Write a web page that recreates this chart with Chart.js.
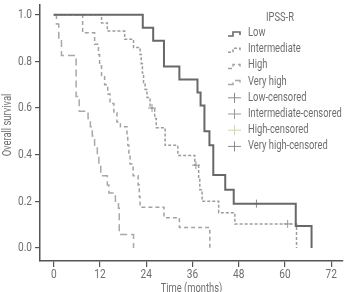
<!DOCTYPE html>
<html>
<head>
<meta charset="utf-8">
<script src="https://cdn.jsdelivr.net/npm/chart.js@4"></script>
<style>
body { margin: 0; background: #fff; }
</style>
</head>
<body>
<canvas id="kmChart" width="348" height="292"></canvas>

<script>
// Kaplan-Meier steps: time (months) where survival drops, and survival after the drop
const lowTime  = [0, 23.1, 25.8, 28.6, 32.6, 37.3, 38.1, 39.1, 40.4, 41.4, 44.5, 46.7, 62.8, 66.9];
const lowSurv  = [1, 0.944, 0.889, 0.778, 0.722, 0.667, 0.611, 0.5, 0.44, 0.313, 0.25, 0.19, 0.094, 0];

const intTime  = [0, 12.4, 13.9, 18.4, 20.7, 22.4, 22.7, 23.0, 23.3, 23.7, 24.2, 25.0, 26.2, 26.6, 28.9, 32.2, 36.6, 37.6, 37.9, 38.5, 42.8, 47.0, 63.0];
const intSurv  = [1, 0.965, 0.93, 0.895, 0.86, 0.83, 0.79, 0.75, 0.71, 0.68, 0.645, 0.6, 0.555, 0.516, 0.44, 0.397, 0.355, 0.3, 0.25, 0.2, 0.151, 0.103, 0];

const highTime = [0, 7.5, 10.6, 11.6, 11.9, 12.4, 13.2, 14.0, 14.6, 15.6, 16.4, 17.3, 19.0, 19.2, 19.5, 19.8, 20.6, 21.9, 22.2, 22.4, 28.6, 32.6, 40.5];
const highSurv = [1, 0.923, 0.874, 0.83, 0.78, 0.74, 0.7, 0.66, 0.62, 0.58, 0.54, 0.52, 0.48, 0.44, 0.4, 0.36, 0.31, 0.27, 0.22, 0.175, 0.13, 0.088, 0];

const vhTime   = [0, 0.7, 1.3, 2.0, 5.8, 6.6, 8.9, 9.5, 10.0, 10.6, 11.3, 11.7, 12.2, 13.9, 14.3, 16.0, 16.8, 17.0, 20.7];
const vhSurv   = [1, 0.96, 0.9, 0.825, 0.65, 0.586, 0.555, 0.52, 0.48, 0.44, 0.4, 0.355, 0.31, 0.27, 0.236, 0.2, 0.17, 0.058, 0];

// censored observations
const lowCensTime = [52.6];
const lowCensSurv = [0.19];
const intCensTime = [25.5, 36.9, 60.7];
const intCensSurv = [0.6, 0.355, 0.103];

const xTicks = [0, 12, 24, 36, 48, 60, 72];
const yTicks = [0, 0.2, 0.4, 0.6, 0.8, 1.0];

const FONT = "Roboto, 'Liberation Sans', sans-serif";
const TEXT = '#6e6e6e';
const SQUEEZE = 0.78;   // the original uses a condensed face

function pts(t, s){
    return t.map((v, i) => ({x: v, y: s[i]}));
}

function stepLine(label, t, s, color, width, dash){
    return {
        label: label,
        data: pts(t, s),
        stepped: 'before',
        borderColor: color,
        borderWidth: width,
        borderDash: dash,
        pointRadius: 0,
        fill: false,
        kind: 'line'
    };
}

function censors(label, t, s, color){
    return {
        label: label,
        data: pts(t, s),
        showLine: false,
        pointStyle: 'cross',
        pointRadius: 4,
        borderColor: color,
        borderWidth: 1,
        kind: 'cens'
    };
}

// text squeezed horizontally (in its own direction)
function narrowText(ctx, text, x, y, align, rot){
    ctx.save();
    ctx.translate(x, y);
    if (rot) ctx.rotate(rot);
    ctx.scale(SQUEEZE, 1);
    ctx.textAlign = align;
    ctx.fillText(text, 0, 0);
    ctx.restore();
}

// tick labels and axis titles
const kmText = {
    id: 'kmText',
    afterDraw(chart){
        const ctx = chart.ctx;
        const xs = chart.scales.x, ys = chart.scales.y;
        ctx.save();
        ctx.fillStyle = TEXT;
        ctx.textBaseline = 'middle';
        ctx.font = '13px ' + FONT;
        xTicks.forEach(v => narrowText(ctx, String(v), xs.getPixelForValue(v), xs.top + 14, 'center'));
        yTicks.forEach(v => narrowText(ctx, v.toFixed(1), ys.right - 8, ys.getPixelForValue(v), 'right'));
        ctx.font = '12px ' + FONT;
        narrowText(ctx, 'Time (months)', (xs.left + xs.right) / 2, xs.top + 28, 'center');
        narrowText(ctx, 'Overall survival', 8, 125, 'center', -Math.PI / 2);
        ctx.restore();
    }
};

// legend drawn inside the plot, top right
const kmLegend = {
    id: 'kmLegend',
    afterDraw(chart){
        const ctx = chart.ctx;
        ctx.save();
        ctx.font = '12px ' + FONT;
        ctx.fillStyle = TEXT;
        ctx.textBaseline = 'middle';
        narrowText(ctx, 'IPSS-R', 280, 18, 'center');
        chart.data.datasets.forEach((ds, i) => {
            let y = 33 + i * 16.2;
            ctx.strokeStyle = ds.borderColor;
            ctx.lineWidth = ds.kind === 'line' ? Math.min(ds.borderWidth, 1.6) : 1;
            ctx.setLineDash(ds.kind === 'line' ? (ds.borderDash || []) : []);
            ctx.beginPath();
            if (ds.kind === 'line') {
                ctx.moveTo(228, y + 3);
                ctx.lineTo(233, y + 3);
                ctx.lineTo(233, y - 1);
                ctx.lineTo(240, y - 1);
                ctx.lineTo(240, y + 2);
            } else {
                ctx.moveTo(228, y);
                ctx.lineTo(241, y);
                ctx.moveTo(234.5, y - 5);
                ctx.lineTo(234.5, y + 5);
            }
            ctx.stroke();
            ctx.setLineDash([]);
            narrowText(ctx, ds.label, 248, y, 'left');
        });
        ctx.restore();
    }
};

new Chart(document.getElementById('kmChart'), {
    type: 'line',
    data: {
        datasets: [
            stepLine('Low', lowTime, lowSurv, '#686868', 2, []),
            stepLine('Intermediate', intTime, intSurv, '#9c9c9c', 1.5, [3, 2]),
            stepLine('High', highTime, highSurv, '#a2a2a2', 1.5, [4, 3]),
            stepLine('Very high', vhTime, vhSurv, '#a8a8a8', 1.5, [7, 4]),
            censors('Low-censored', lowCensTime, lowCensSurv, '#8a8a8a'),
            censors('Intermediate-censored', intCensTime, intCensSurv, '#9a9a9a'),
            censors('High-censored', [], [], '#d2d6a6'),
            censors('Very high-censored', [], [], '#8a8a8a')
        ]
    },
    options: {
        responsive: false,
        animation: false,
        layout: { padding: 0 },
        plugins: {
            legend: { display: false },
            tooltip: { enabled: false }
        },
        scales: {
            x: {
                type: 'linear',
                min: -3.57,
                max: 75.06,
                afterBuildTicks: s => { s.ticks = xTicks.map(v => ({value: v})); },
                afterFit: s => { s.height = 31; },
                ticks: { display: false },
                grid: { drawOnChartArea: false, tickLength: 6, color: '#555', lineWidth: 1.2 },
                border: { color: '#555', width: 1.5 }
            },
            y: {
                min: -0.056,
                max: 1.042,
                afterBuildTicks: s => { s.ticks = yTicks.map(v => ({value: v})); },
                afterFit: s => { s.width = 40; },
                ticks: { display: false },
                grid: { drawOnChartArea: false, tickLength: 5, color: '#555', lineWidth: 1.2 },
                border: { color: '#555', width: 1.5 }
            }
        }
    },
    plugins: [kmText, kmLegend]
});
</script>
</body>
</html>
